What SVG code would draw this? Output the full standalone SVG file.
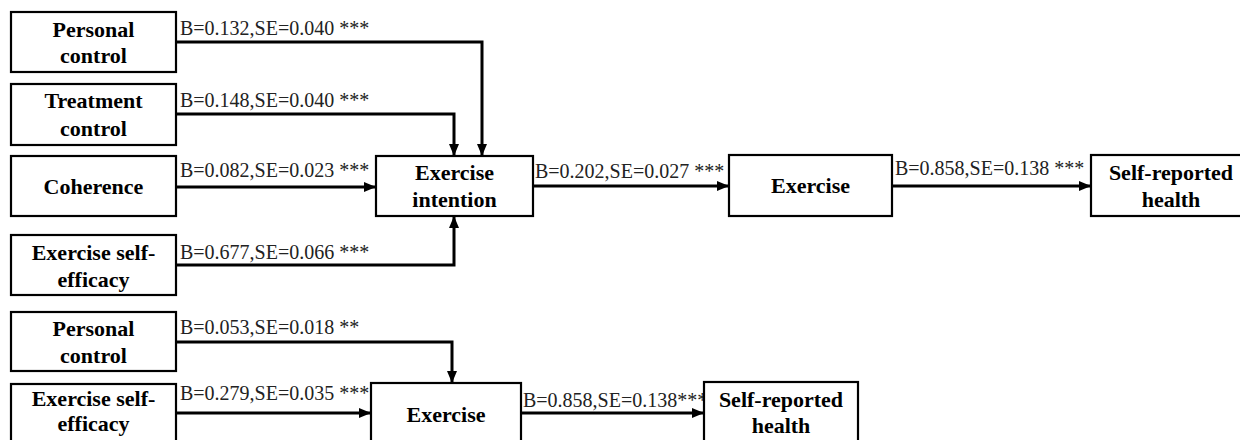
<svg xmlns="http://www.w3.org/2000/svg" width="1240" height="440" viewBox="0 0 1240 440">
<style>
.box{fill:#fff;stroke:#000;stroke-width:2.2}
.nt{font-weight:bold;font-size:22px;fill:#000;text-anchor:middle}
.lb{font-size:20px;fill:#222}
.cn{fill:none;stroke:#000;stroke-width:3;marker-end:url(#ah)}
</style>
<defs>
<marker id="ah" markerUnits="userSpaceOnUse" markerWidth="12" markerHeight="10" refX="11" refY="5" orient="auto">
<path d="M0,0 L12,5 L0,10 z" fill="#000"/>
</marker>
</defs>
<rect width="1240" height="440" fill="#fff"/>
<g id="connectors">
<path class="cn" d="M176,42 H482 V155"/>
<path class="cn" d="M176,114 H454 V155"/>
<path class="cn" d="M176,187 H375"/>
<path class="cn" d="M176,265 H454 V217"/>
<path class="cn" d="M533,186 H728"/>
<path class="cn" d="M892,186 H1090"/>
<path class="cn" d="M176,342 H452 V382"/>
<path class="cn" d="M176,413 H370"/>
<path class="cn" d="M521,413 H703"/>
</g>
<g id="labels" font-family="Liberation Serif, Times New Roman, serif">
<text class="lb" x="180" y="35">B=0.132,SE=0.040 ***</text>
<text class="lb" x="180" y="107">B=0.148,SE=0.040 ***</text>
<text class="lb" x="180" y="177">B=0.082,SE=0.023 ***</text>
<text class="lb" x="180" y="259">B=0.677,SE=0.066 ***</text>
<text class="lb" x="535" y="178">B=0.202,SE=0.027 ***</text>
<text class="lb" x="895" y="175">B=0.858,SE=0.138 ***</text>
<text class="lb" x="180" y="334">B=0.053,SE=0.018 **</text>
<text class="lb" x="180" y="400">B=0.279,SE=0.035 ***</text>
<text class="lb" x="523" y="407">B=0.858,SE=0.138***</text>
</g>
<g id="nodes" font-family="Liberation Serif, Times New Roman, serif">
<g id="n_personal1"><rect class="box" x="11" y="12" width="165" height="60"/><text class="nt" x="93.5" y="37">Personal</text><text class="nt" x="93.5" y="63">control</text></g>
<g id="n_treatment"><rect class="box" x="11" y="84" width="165" height="61"/><text class="nt" x="93.5" y="108">Treatment</text><text class="nt" x="93.5" y="136">control</text></g>
<g id="n_coherence"><rect class="box" x="11" y="156" width="165" height="60"/><text class="nt" x="93.5" y="194">Coherence</text></g>
<g id="n_selfeff1"><rect class="box" x="11" y="235" width="165" height="60"/><text class="nt" x="93.5" y="260">Exercise self-</text><text class="nt" x="93.5" y="287">efficacy</text></g>
<g id="n_intention"><rect class="box" x="376" y="156" width="157" height="60"/><text class="nt" x="454.5" y="180">Exercise</text><text class="nt" x="454.5" y="207">intention</text></g>
<g id="n_exercise1"><rect class="box" x="729" y="155" width="163" height="61"/><text class="nt" x="810.5" y="193">Exercise</text></g>
<g id="n_health1"><rect class="box" x="1091" y="155" width="152" height="61"/><text class="nt" x="1171" y="180">Self-reported</text><text class="nt" x="1171" y="207">health</text></g>
<g id="n_personal2"><rect class="box" x="11" y="312" width="165" height="59"/><text class="nt" x="93.5" y="336">Personal</text><text class="nt" x="93.5" y="363">control</text></g>
<g id="n_selfeff2"><rect class="box" x="11" y="384" width="165" height="60"/><text class="nt" x="93.5" y="406">Exercise self-</text><text class="nt" x="93.5" y="431">efficacy</text></g>
<g id="n_exercise2"><rect class="box" x="371" y="383" width="150" height="61"/><text class="nt" x="446" y="422">Exercise</text></g>
<g id="n_health2"><rect class="box" x="704" y="382" width="154" height="62"/><text class="nt" x="781" y="407">Self-reported</text><text class="nt" x="781" y="433">health</text></g>
</g>
</svg>
